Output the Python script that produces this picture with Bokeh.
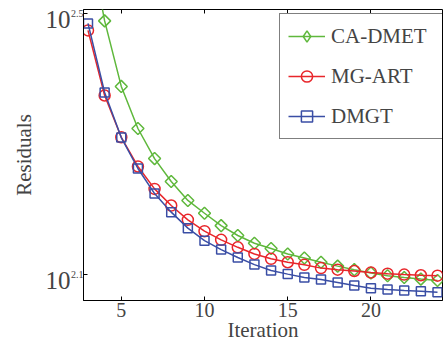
import numpy as np
from bokeh.plotting import figure
from bokeh.models import (FixedTicker, LinearAxis, LogAxis, CustomJSTickFormatter,
                          LegendItem, Legend)
from bokeh.embed import file_html
from bokeh.resources import INLINE

# ---- data ----
iterations = list(range(3, 25))
ca_dmet = [420.0, 308.0, 244.5, 210.8, 189.6, 174.9, 163.6, 156.4, 149.7, 144.6, 140.7,
           138.1, 135.5, 133.6, 131.6, 129.8, 128.2, 126.7, 125.5, 124.7, 124.0, 123.4]
mg_art = [297.8, 236.8, 204.4, 184.4, 170.4, 160.7, 152.8, 146.8, 142.4, 138.7, 135.5,
          133.2, 131.6, 130.4, 128.9, 128.2, 127.6, 126.9, 126.4, 126.0, 125.7, 125.5]
dmgt = [305.3, 239.4, 204.2, 183.1, 167.6, 157.0, 148.4, 142.0, 137.6, 133.8, 130.5,
        127.8, 126.2, 124.7, 123.8, 122.5, 121.2, 120.1, 119.5, 119.1, 118.8, 118.4]
x_ticks = [5, 10, 15, 20]
y_tick_exponents = [2.1, 2.5]
x_lim = (2.73, 24.3)
y_lim = (115.0, 320.6)

FONT = "Liberation Serif"
GREEN = "#5fb83c"
RED = "#e8262b"
BLUE = "#3a4ea5"

W, H = 443, 347
B_LEFT, B_RIGHT, B_TOP, B_BOTTOM = 83, 1, 9, 47

p = figure(width=W, height=H, y_axis_type="log", x_range=x_lim, y_range=y_lim,
           output_backend="svg", toolbar_location=None,
           min_border_left=B_LEFT, min_border_right=B_RIGHT,
           min_border_top=B_TOP, min_border_bottom=B_BOTTOM)
p.xgrid.visible = False
p.ygrid.visible = False
p.outline_line_color = "black"
p.outline_line_width = 1
p.background_fill_color = "white"
p.border_fill_color = "white"

items = []
# CA-DMET: diamonds drawn as rotated squares, legend uses a diamond marker
g_line = p.line(iterations, ca_dmet, line_color=GREEN, line_width=1.5)
g_pts = p.scatter(iterations, ca_dmet, marker="square", size=8.5, angle=np.pi / 4,
                  line_color=GREEN, line_width=1.5, fill_color=None)
g_leg = p.scatter(iterations, ca_dmet, marker="diamond", size=0,
                  line_color=GREEN, line_width=1.5, fill_color=None)
items.append(LegendItem(label="CA-DMET", renderers=[g_line, g_leg]))

r_line = p.line(iterations, mg_art, line_color=RED, line_width=1.5)
r_pts = p.scatter(iterations, mg_art, marker="circle", size=11,
                  line_color=RED, line_width=1.5, fill_color=None)
items.append(LegendItem(label="MG-ART", renderers=[r_line, r_pts]))

b_line = p.line(iterations, dmgt, line_color=BLUE, line_width=1.5)
b_pts = p.scatter(iterations, dmgt, marker="square", size=9,
                  line_color=BLUE, line_width=1.5, fill_color=None)
items.append(LegendItem(label="DMGT", renderers=[b_line, b_pts]))

# x axis
xa = p.xaxis[0]
xa.ticker = FixedTicker(ticks=x_ticks)
xa.major_tick_in = 4
xa.major_tick_out = 0
xa.minor_tick_line_color = None
xa.major_label_text_font = FONT
xa.major_label_text_font_size = "20px"
xa.major_label_standoff = 2
xa.axis_label = "Iteration"
xa.axis_label_text_font = FONT
xa.axis_label_text_font_size = "21px"
xa.axis_label_text_font_style = "normal"
xa.axis_label_standoff = -2

# y axis: tick marks and the exponent part of the "10^e" labels
ya = p.yaxis[0]
ya.ticker = FixedTicker(ticks=[10 ** e for e in y_tick_exponents])
ya.formatter = CustomJSTickFormatter(code="return Math.log10(tick).toFixed(1)")
ya.major_tick_in = 4
ya.major_tick_out = 0
ya.minor_tick_line_color = None
ya.major_label_text_font = FONT
ya.major_label_text_font_size = "10px"
ya.major_label_standoff = 0

# outer axis: the base "10" of the labels, set slightly lower as in the reference
frame_h = H - B_TOP - B_BOTTOM
px_per_decade = frame_h / np.log10(y_lim[1] / y_lim[0])
base_shift = 6.0 / px_per_decade
base_axis = LogAxis(ticker=FixedTicker(ticks=[10 ** (e - base_shift) for e in y_tick_exponents]),
                    formatter=CustomJSTickFormatter(code="return '10'"),
                    axis_line_color=None, major_tick_line_color=None,
                    minor_tick_line_color=None,
                    major_label_text_font=FONT, major_label_text_font_size="25px",
                    major_label_standoff=-9,
                    axis_label="Residuals", axis_label_text_font=FONT,
                    axis_label_text_font_size="21px", axis_label_text_font_style="normal",
                    axis_label_standoff=7)
p.add_layout(base_axis, "left")

# top axis (ticks only)
top = LinearAxis(ticker=FixedTicker(ticks=x_ticks),
                 formatter=CustomJSTickFormatter(code="return ''"),
                 major_tick_in=4, major_tick_out=0, minor_tick_line_color=None,
                 major_label_standoff=0, axis_line_color=None)
p.add_layout(top, "above")

# legend
lg = Legend(items=items, location=(196, 161))
lg.label_text_font = FONT
lg.label_text_font_size = "21px"
lg.glyph_width = 37
lg.glyph_height = 28
lg.label_height = 20
lg.label_standoff = 6
lg.label_width = 104
lg.padding = 8
lg.spacing = 12
lg.margin = 0
lg.border_line_color = "black"
lg.border_line_width = 1
lg.background_fill_alpha = 1.0
p.add_layout(lg, "center")

open("out.html", "w").write(file_html(p, INLINE))
